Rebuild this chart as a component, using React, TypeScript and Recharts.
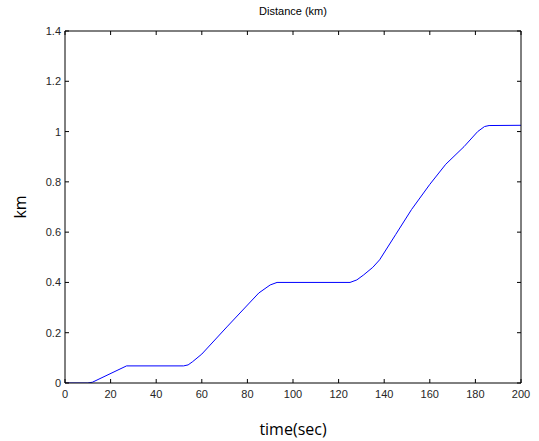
import React from 'react';
import { LineChart, Line, XAxis, YAxis } from 'recharts';

// time (sec) and distance (km)
const times = [0, 10, 12, 27, 52, 54, 56, 60, 71, 85, 90, 93, 125, 128, 131, 135, 138, 145, 152, 160, 167, 175, 181, 184, 186, 200];
const distances = [0, 0, 0.003, 0.068, 0.068, 0.072, 0.085, 0.115, 0.223, 0.358, 0.39, 0.4, 0.4, 0.41, 0.43, 0.46, 0.49, 0.59, 0.69, 0.79, 0.87, 0.94, 1.0, 1.02, 1.024, 1.025];

const xTicks = [0, 20, 40, 60, 80, 100, 120, 140, 160, 180, 200];
const yTicks = [0, 0.2, 0.4, 0.6, 0.8, 1, 1.2, 1.4];
const yTickLabels = ['0', '0.2', '0.4', '0.6', '0.8', '1', '1.2', '1.4'];

const data = times.map((t, i) => ({ t, km: distances[i] }));

const tickFont = "'Liberation Sans', Arial, sans-serif";
const tickColor = '#262626';

const BottomTick = (props: any) => {
  const { x, y, payload } = props;
  return (
    <g>
      <line x1={x} y1={y} x2={x} y2={y - 4} stroke="#000" />
      <text x={x} y={y + 15} textAnchor="middle" fontSize={11} fontFamily={tickFont} fill={tickColor}>
        {payload.value}
      </text>
    </g>
  );
};

const LeftTick = (props: any) => {
  const { x, y, payload } = props;
  const idx = yTicks.indexOf(payload.value);
  return (
    <g>
      <line x1={x} y1={y} x2={x + 4} y2={y} stroke="#000" />
      <text x={x - 4} y={y + 4} textAnchor="end" fontSize={11} fontFamily={tickFont} fill={tickColor}>
        {idx >= 0 ? yTickLabels[idx] : payload.value}
      </text>
    </g>
  );
};

const TopTick = (props: any) => {
  const { x, y } = props;
  return <line x1={x} y1={y} x2={x} y2={y + 4} stroke="#000" />;
};

const RightTick = (props: any) => {
  const { x, y } = props;
  return <line x1={x} y1={y} x2={x - 4} y2={y} stroke="#000" />;
};

export default function App() {
  return (
    <div style={{ position: 'absolute', left: 0, top: 0, width: 539, height: 441, background: '#fff' }}>
      <LineChart width={539} height={441} data={data} margin={{ top: 30, right: 17, bottom: 0, left: 0 }}>
        <XAxis
          dataKey="t"
          type="number"
          domain={[0, 200]}
          ticks={xTicks}
          interval={0}
          height={58}
          tickSize={0}
          tickMargin={0}
          tickLine={false}
          tick={<BottomTick />}
          stroke="#000"
          allowDataOverflow
        />
        <XAxis
          xAxisId="top"
          orientation="top"
          dataKey="t"
          type="number"
          domain={[0, 200]}
          ticks={xTicks}
          interval={0}
          height={1}
          tickSize={0}
          tickMargin={0}
          tickLine={false}
          tick={<TopTick />}
          stroke="#000"
          allowDataOverflow
        />
        <YAxis
          type="number"
          domain={[0, 1.4]}
          ticks={yTicks}
          interval={0}
          width={65}
          tickSize={0}
          tickMargin={0}
          tickLine={false}
          tick={<LeftTick />}
          stroke="#000"
          allowDataOverflow
        />
        <YAxis
          yAxisId="right"
          orientation="right"
          type="number"
          domain={[0, 1.4]}
          ticks={yTicks}
          interval={0}
          width={1}
          tickSize={0}
          tickMargin={0}
          tickLine={false}
          tick={<RightTick />}
          stroke="#000"
          allowDataOverflow
        />
        {/* invisible copy so the top/right frame axes get drawn */}
        <Line
          xAxisId="top"
          yAxisId="right"
          type="linear"
          dataKey="km"
          stroke="none"
          dot={false}
          activeDot={false}
          legendType="none"
          isAnimationActive={false}
        />
        <Line
          type="linear"
          dataKey="km"
          stroke="#0000ff"
          strokeWidth={1}
          dot={false}
          isAnimationActive={false}
        />
      </LineChart>
      <div
        style={{
          position: 'absolute', left: 65, width: 456, top: 5, textAlign: 'center',
          fontFamily: tickFont, fontSize: 11, color: '#000', lineHeight: '13px',
        }}
      >
        Distance (km)
      </div>
      <div
        style={{
          position: 'absolute', left: 65, width: 456, top: 419, textAlign: 'center',
          fontFamily: "'Open Sans', Lato, sans-serif", fontSize: 16, color: '#000', lineHeight: '20px',
        }}
      >
        time(sec)
      </div>
      <div
        style={{
          position: 'absolute', left: 20, top: 207, width: 0, height: 0,
        }}
      >
        <div
          style={{
            position: 'absolute', left: -40, top: -10, width: 80, textAlign: 'center',
            transform: 'rotate(-90deg)', fontFamily: "'Open Sans', Lato, sans-serif", fontSize: 16,
            color: '#000', lineHeight: '20px',
          }}
        >
          km
        </div>
      </div>
    </div>
  );
}
